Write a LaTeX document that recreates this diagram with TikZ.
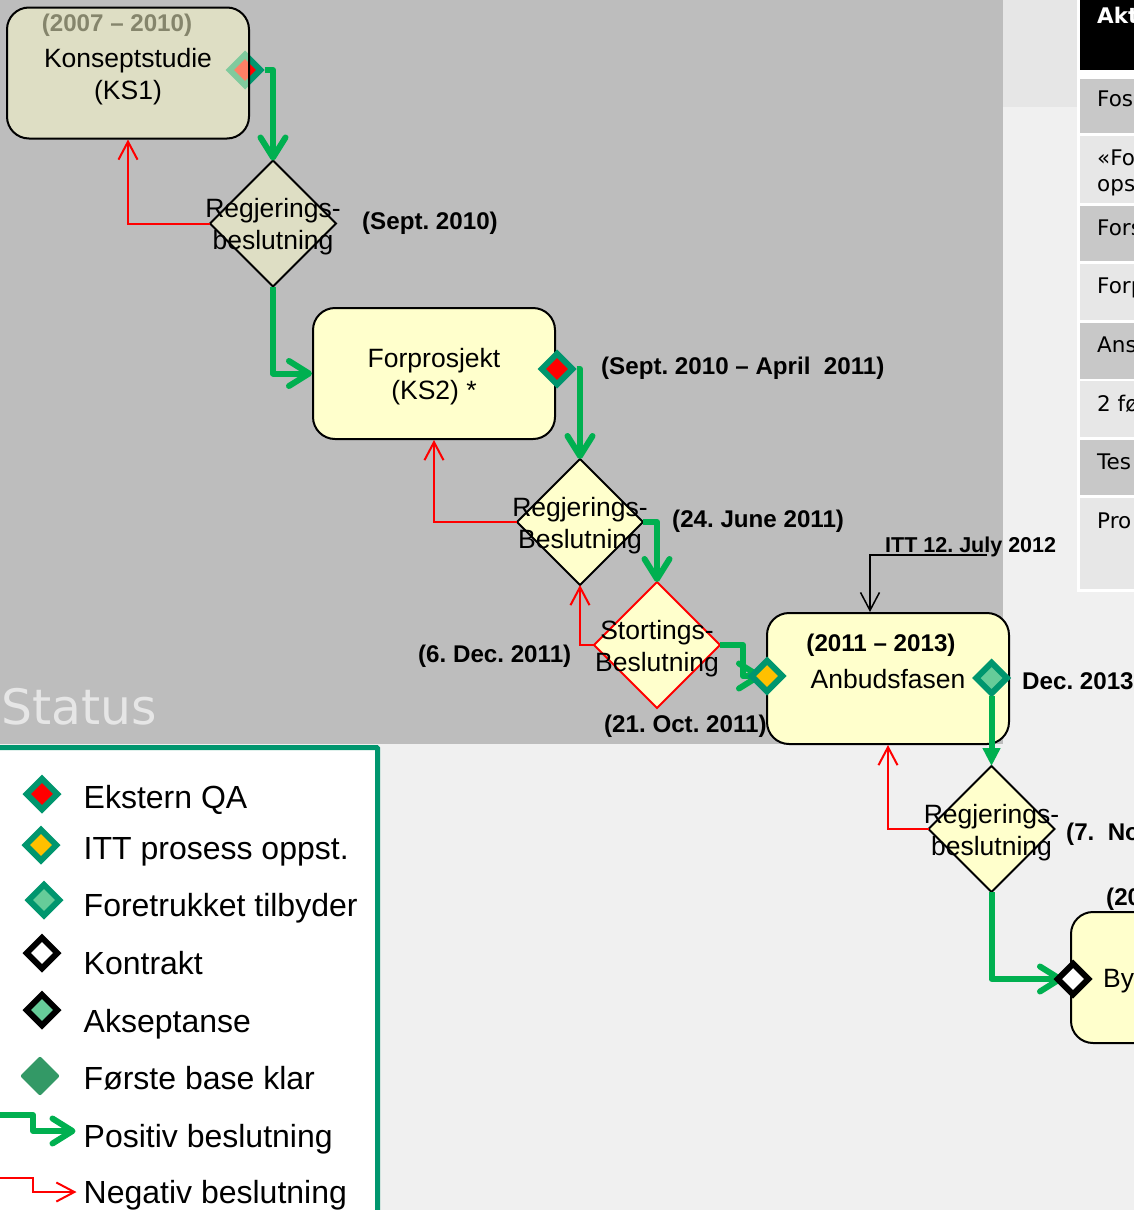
\documentclass[tikz,border=0pt]{standalone}
\usepackage{fontspec}
\setmainfont{Liberation Sans}
\newfontfamily\tablefont{DejaVu Sans}
\usetikzlibrary{arrows.meta,shapes.geometric}
\definecolor{pagegray}{HTML}{F0F0F0}
\definecolor{bandgray}{HTML}{BDBDBD}
\definecolor{bandlight}{HTML}{E6E6E6}
\definecolor{rowdark}{HTML}{C8C8C8}
\definecolor{rowlight}{HTML}{E7E7E7}
\definecolor{boxyellow}{HTML}{FFFFCC}
\definecolor{posgreen}{HTML}{00B050}
\definecolor{msteal}{HTML}{00966E}
\definecolor{msamber}{HTML}{FFC000}
\definecolor{mslight}{HTML}{66CC99}
\definecolor{msbase}{HTML}{339966}
\definecolor{dategray}{HTML}{85856C}
\tikzset{
  phase/.style={rectangle,draw=black,line width=2pt,rounded corners=22pt,fill=boxyellow,
    minimum width=242pt,minimum height=131pt},
  faded/.style={fill opacity=.5,text opacity=1},
  gate/.style={diamond,draw=black,line width=2pt,fill=boxyellow,aspect=1,inner sep=0pt,outer sep=0pt,
    minimum width=126pt,minimum height=126pt},
  gatetext/.style={align=center,inner sep=0pt,yshift=-3.5pt,font=\fontsize{26.5}{32}\selectfont},
  milestone/.style={diamond,line width=6pt,aspect=1,inner sep=0pt,
    minimum width=33pt,minimum height=33pt},
  qa/.style={milestone,draw=msteal,fill=red},
  itt/.style={milestone,draw=msteal,fill=msamber},
  pref/.style={milestone,draw=msteal,fill=mslight},
  contract/.style={milestone,draw=black,fill=white},
  accept/.style={milestone,draw=black,fill=mslight},
  firstbase/.style={diamond,fill=msbase,aspect=1,inner sep=0pt,rounded corners=2pt,
    minimum width=40pt,minimum height=40pt},
  datetext/.style={anchor=west,inner sep=0pt,font=\fontsize{24.15}{28}\bfseries\selectfont},
  plain/.style={anchor=west,inner sep=0pt,font=\fontsize{26.5}{32}\selectfont},
  legendtext/.style={anchor=base west,inner sep=0pt,font=\fontsize{32}{36}\selectfont},
  positive/.style={draw=posgreen,line width=6pt,line join=round,
    -{Straight Barb[length=20pt,width=25pt,round]}},
  positiveshort/.style={draw=posgreen,line width=6pt,line join=round,
    -{Triangle[length=18pt,width=17pt]}},
  negative/.style={draw=red,line width=2pt,-{Straight Barb[length=18pt,width=19pt]}},
  notice/.style={draw=black,line width=1.5pt,-{Straight Barb[length=18pt,width=19pt]}},
  cell/.style={rectangle,anchor=north west,inner sep=0pt,outer sep=0pt,minimum width=60pt},
  celltext/.style={anchor=base west,inner sep=0pt,font=\fontsize{21.5}{25}\tablefont\selectfont}
}
\begin{document}
\frenchspacing
\begin{tikzpicture}[x=1pt,y=-1pt]
  \path[use as bounding box] (0,0) rectangle (1134,1210);
  \clip (0,0) rectangle (1134,1210);
  % background bands
  \fill[pagegray] (0,0) rectangle (1134,1210);
  \fill[bandlight] (1003,0) rectangle (1077,107);
  \fill[bandgray] (0,0) rectangle (1003,743.5);
  \node[anchor=west,inner sep=0pt,text=bandlight,font=\fontsize{48.8}{52}\tablefont\selectfont] (status) at (1,707) {Status};
  % table on the right
  \fill[white] (1077,0) rectangle (1134,592);
  \node[cell,fill=black,minimum height=70pt] (head) at (1080,0) {};
  \node[cell,fill=rowdark,minimum height=54pt] (row1) at (1080,79) {};
  \node[cell,fill=rowlight,minimum height=67pt] (row2) at (1080,136) {};
  \node[cell,fill=rowdark,minimum height=55pt] (row3) at (1080,206) {};
  \node[cell,fill=rowlight,minimum height=56pt] (row4) at (1080,264) {};
  \node[cell,fill=rowdark,minimum height=56pt] (row5) at (1080,323) {};
  \node[cell,fill=rowlight,minimum height=56pt] (row6) at (1080,381) {};
  \node[cell,fill=rowdark,minimum height=55pt] (row7) at (1080,440) {};
  \node[cell,fill=rowlight,minimum height=91pt] (row8) at (1080,498) {};
  \node[celltext,text=white,font=\fontsize{21.5}{25}\tablefont\bfseries\selectfont] (headtext) at (1097,23) {Akt};
  \node[celltext] (text1) at (1097,106) {Fos};
  \node[celltext] (text2a) at (1097,165) {«Fo};
  \node[celltext] (text2b) at (1097,191) {ops};
  \node[celltext] (text3) at (1097,235) {Fors};
  \node[celltext] (text4) at (1097,293) {Forp};
  \node[celltext] (text5) at (1097,352) {Ans};
  \node[celltext] (text6) at (1097,411) {2 fø};
  \node[celltext] (text7) at (1097,469) {Tes};
  \node[celltext] (text8) at (1097,528) {Pro};
  % first phase, the box lies over its milestone
  \node[qa] (qa1) at (245,70) {};
  \node[phase,faded] (ks1) at (128,73) {};
  \node[gatetext] (ks1text) at (ks1) {Konseptstudie\\(KS1)};
  \node[datetext,anchor=center,text=dategray] (ks1date) at (117,25) {(2007 – 2010)};
  \node[gate,faded] (gate1) at (273,223.5) {};
  \node[gatetext] (gate1text) at (gate1) {Regjerings-\\beslutning};
  \node[datetext] (gate1date) at (362,223) {(Sept. 2010)};
  \draw[positive] (qa1.east) -| (gate1.north);
  \draw[negative] (gate1.west) -| (ks1.south);
  % second phase
  \node[phase] (ks2) at (434,373.5) {};
  \node[gatetext] (ks2text) at (ks2) {Forprosjekt\\(KS2) *};
  \node[qa] (qa2) at (557,369) {};
  \node[datetext] (ks2date) at (601,368) {(Sept. 2010 – April\ \ 2011)};
  \node[gate] (gate2) at (580,522) {};
  \node[gatetext] (gate2text) at (gate2) {Regjerings-\\Beslutning};
  \node[datetext] (gate2date) at (672,521) {(24. June 2011)};
  \draw[positive] (gate1.south) |- (ks2.west);
  \draw[positive] (qa2.east) -| (gate2.north);
  \draw[negative] (gate2.west) -| (ks2.south);
  % parliament decision
  \node[gate,draw=red] (gate3) at (657,645) {};
  \node[gatetext] (gate3text) at (gate3) {Stortings-\\Beslutning};
  \node[datetext] (gate3date) at (604,726) {(21. Oct. 2011)};
  \node[datetext] (gate3back) at (418,656) {(6. Dec. 2011)};
  \draw[positive] (gate2.east) -| (gate3.north);
  \draw[negative] (gate3.west) -| (gate2.south);
  % tender phase
  \node[phase] (anbud) at (888,678.5) {};
  \node[datetext,anchor=center] (anbuddate) at (881,645) {(2011 – 2013)};
  \node[gatetext] (anbudtext) at (888,675.5) {Anbudsfasen};
  \coordinate (ittpoint) at (767,676);
  \draw[positive] (gate3.east) -- ++(23,0) |- ([xshift=-5pt]ittpoint);
  \node[itt] (itt1) at (ittpoint) {};
  \node[pref] (pref1) at (991.5,678) {};
  \node[datetext] (preftext) at (1022,681) {Dec. 2013};
  \coordinate (ittend) at (987,555);
  \node[datetext,font=\fontsize{21.5}{26}\bfseries\selectfont] (itttext) at (885,547) {ITT 12. July 2012};
  \draw[notice] (ittend) -| ([xshift=-18pt]anbud.north);
  \node[gate] (gate4) at (991.5,829) {};
  \node[gatetext] (gate4text) at (gate4) {Regjerings-\\beslutning};
  \node[datetext] (gate4date) at (1066,834) {(7.\ \ No};
  \draw[positiveshort,shorten <=-2pt] (pref1.south) -- (gate4.north);
  \draw[negative] (gate4.west) -| (anbud.south);
  % build phase, cut by the page edge
  \node[phase] (bygg) at (1192,977.5) {};
  \node[plain] (byggtext) at (1103,981) {By};
  \node[datetext] (byggdate) at (1106,899) {(20};
  \coordinate (contractpoint) at (1073,979);
  \draw[positive] (gate4.south) |- ([xshift=-10pt]contractpoint);
  \node[contract] (contract1) at (contractpoint) {};
  % legend
  \draw[draw=msteal,line width=5pt,fill=white,rounded corners=1pt] (-10,747.5) rectangle (377.5,1240);
  \node[qa] (legqa) at (42,794) {};
  \node[itt] (legitt) at (41,845) {};
  \node[pref] (legpref) at (44,900) {};
  \node[contract] (legcontract) at (42,953) {};
  \node[accept] (legaccept) at (42,1010) {};
  \node[firstbase] (legbase) at (40,1076) {};
  \node[legendtext] (txtqa) at (83.5,808) {Ekstern QA};
  \node[legendtext] (txtitt) at (83.5,859) {ITT prosess oppst.};
  \node[legendtext] (txtpref) at (83.5,916) {Foretrukket tilbyder};
  \node[legendtext] (txtcontract) at (83.5,974) {Kontrakt};
  \node[legendtext] (txtaccept) at (83.5,1032) {Akseptanse};
  \node[legendtext] (txtbase) at (83.5,1089) {Første base klar};
  \node[legendtext] (txtpos) at (83.5,1147) {Positiv beslutning};
  \node[legendtext] (txtneg) at (83.5,1203) {Negativ beslutning};
  \coordinate (posstart) at (-2,1115);
  \coordinate (negstart) at (-2,1178);
  \draw[positive,shorten >=8pt] (posstart) -- ++(35,0) |- ([yshift=16pt]txtpos.base west);
  \draw[negative,shorten >=7pt] (negstart) -- ++(35,0) |- ([yshift=11pt]txtneg.base west);
\end{tikzpicture}
\end{document}
